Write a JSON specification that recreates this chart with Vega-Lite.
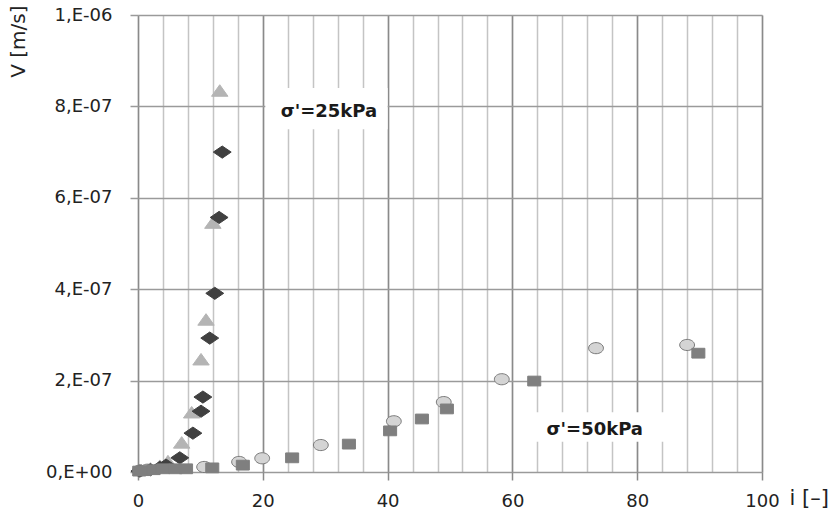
{
  "$schema": "https://vega.github.io/schema/vega-lite/v6.json",
  "width": 624,
  "height": 457,
  "autosize": {"type": "none"},
  "padding": {"left": 138, "top": 15, "right": 73, "bottom": 41},
  "background": "white",
  "config": {"view": {"stroke": null}, "font": "DejaVu Sans"},
  "datasets": {
    "pts": [
      {"series": "25kPa B", "i": 0.5, "V": 0.03e-7},
      {"series": "25kPa B", "i": 2.0, "V": 0.06e-7},
      {"series": "25kPa B", "i": 3.5, "V": 0.12e-7},
      {"series": "25kPa B", "i": 4.8, "V": 0.22e-7},
      {"series": "25kPa B", "i": 7.0, "V": 0.63e-7},
      {"series": "25kPa B", "i": 8.6, "V": 1.29e-7},
      {"series": "25kPa B", "i": 10.1, "V": 2.45e-7},
      {"series": "25kPa B", "i": 10.9, "V": 3.32e-7},
      {"series": "25kPa B", "i": 12.0, "V": 5.44e-7},
      {"series": "25kPa B", "i": 13.1, "V": 8.33e-7},
      {"series": "50kPa A", "i": 0.3, "V": 0.03e-7},
      {"series": "50kPa A", "i": 1.5, "V": 0.05e-7},
      {"series": "50kPa A", "i": 10.6, "V": 0.11e-7},
      {"series": "50kPa A", "i": 16.2, "V": 0.22e-7},
      {"series": "50kPa A", "i": 19.9, "V": 0.30e-7},
      {"series": "50kPa A", "i": 29.3, "V": 0.59e-7},
      {"series": "50kPa A", "i": 41.0, "V": 1.11e-7},
      {"series": "50kPa A", "i": 49.0, "V": 1.53e-7},
      {"series": "50kPa A", "i": 58.3, "V": 2.03e-7},
      {"series": "50kPa A", "i": 73.4, "V": 2.71e-7},
      {"series": "50kPa A", "i": 88.0, "V": 2.78e-7},
      {"series": "25kPa A", "i": 0.3, "V": 0.02e-7},
      {"series": "25kPa A", "i": 2.0, "V": 0.05e-7},
      {"series": "25kPa A", "i": 3.5, "V": 0.10e-7},
      {"series": "25kPa A", "i": 4.5, "V": 0.15e-7},
      {"series": "25kPa A", "i": 6.7, "V": 0.31e-7},
      {"series": "25kPa A", "i": 8.8, "V": 0.85e-7},
      {"series": "25kPa A", "i": 10.1, "V": 1.33e-7},
      {"series": "25kPa A", "i": 10.4, "V": 1.64e-7},
      {"series": "25kPa A", "i": 11.5, "V": 2.93e-7},
      {"series": "25kPa A", "i": 12.3, "V": 3.91e-7},
      {"series": "25kPa A", "i": 13.0, "V": 5.57e-7},
      {"series": "25kPa A", "i": 13.5, "V": 7.00e-7},
      {"series": "50kPa B", "i": 0.2, "V": 0.02e-7},
      {"series": "50kPa B", "i": 1.0, "V": 0.03e-7},
      {"series": "50kPa B", "i": 2.5, "V": 0.05e-7},
      {"series": "50kPa B", "i": 4.0, "V": 0.07e-7},
      {"series": "50kPa B", "i": 6.0, "V": 0.07e-7},
      {"series": "50kPa B", "i": 7.7, "V": 0.07e-7},
      {"series": "50kPa B", "i": 11.9, "V": 0.09e-7},
      {"series": "50kPa B", "i": 16.8, "V": 0.15e-7},
      {"series": "50kPa B", "i": 24.7, "V": 0.31e-7},
      {"series": "50kPa B", "i": 33.8, "V": 0.61e-7},
      {"series": "50kPa B", "i": 40.4, "V": 0.90e-7},
      {"series": "50kPa B", "i": 45.5, "V": 1.16e-7},
      {"series": "50kPa B", "i": 49.5, "V": 1.38e-7},
      {"series": "50kPa B", "i": 63.5, "V": 1.99e-7},
      {"series": "50kPa B", "i": 89.8, "V": 2.60e-7}
    ],
    "notes": [
      {"label": "σ'=25kPa", "i": 30.6, "V": 7.87e-7, "i0": 20.4, "i1": 40.0, "V0": 7.5e-7, "V1": 8.4e-7},
      {"label": "σ'=50kPa", "i": 73.2, "V": 0.92e-7, "i0": 62.0, "i1": 86.0, "V0": 0.66e-7, "V1": 1.31e-7}
    ]
  },
  "resolve": {"axis": {"x": "independent", "y": "independent"}},
  "layer": [
    {
      "data": {"name": "notes"},
      "mark": {"type": "rect", "fill": "white"},
      "encoding": {
        "x": {"field": "i0", "type": "quantitative", "scale": {"domain": [0, 100], "nice": false},
          "axis": {"orient": "bottom", "values": [0,4,8,12,16,20,24,28,32,36,40,44,48,52,56,60,64,68,72,76,80,84,88,92,96,100], "grid": true, "gridColor": "#c4c4c4", "gridWidth": 1.5, "labels": false, "ticks": false, "domain": false, "title": null}},
        "x2": {"field": "i1"},
        "y": {"field": "V0", "type": "quantitative", "scale": {"domain": [0, 1e-6], "nice": false},
          "axis": {"orient": "left", "values": [0, 2e-7, 4e-7, 6e-7, 8e-7, 1e-6], "grid": true, "gridColor": "#9a9a9a", "gridWidth": 1.5, "labels": false, "ticks": false, "domain": false, "title": null}},
        "y2": {"field": "V1"}
      }
    },
    {
      "data": {"name": "notes"},
      "mark": {"type": "text", "fontWeight": "bold", "fontSize": 18, "color": "#1a1a1a", "font": "DejaVu Sans"},
      "encoding": {
        "x": {"field": "i", "type": "quantitative", "axis": null},
        "y": {"field": "V", "type": "quantitative", "axis": null},
        "text": {"field": "label"}
      }
    },
    {
      "data": {"name": "pts"},
      "mark": {"type": "point", "filled": true, "opacity": 1, "strokeWidth": 1},
      "encoding": {
        "x": {"field": "i", "type": "quantitative",
          "axis": {"orient": "bottom", "values": [0, 20, 40, 60, 80, 100], "grid": true, "gridColor": "#8a8a8a", "gridWidth": 1.5, "domain": false, "ticks": true, "tickSize": 8, "tickColor": "#8a8a8a", "tickWidth": 1.5, "labelPadding": 12, "labelFlush": false, "labelFontSize": 18, "labelColor": "#222", "labelFont": "DejaVu Sans",
            "title": "i [–]", "titleFontSize": 21, "titleFontWeight": "normal", "titleColor": "#222", "titleFont": "DejaVu Sans", "titleX": 651, "titleY": 26, "titleAlign": "left", "titleBaseline": "middle", "titleAnchor": null}},
        "y": {"field": "V", "type": "quantitative",
          "axis": {"orient": "left", "values": [0, 2e-7, 4e-7, 6e-7, 8e-7, 1e-6], "grid": false, "domain": false, "ticks": true, "tickSize": 8, "tickColor": "#9a9a9a", "tickWidth": 1.5, "labelPadding": 18, "labelFlush": false, "labelFontSize": 18, "labelColor": "#222", "labelFont": "DejaVu Sans",
            "labelExpr": "datum.value == 0 ? '0,E+00' : (datum.value >= 9.9e-7 ? '1,E-06' : format(datum.value * 1e7, '.0f') + ',E-07')",
            "title": "V [m/s]", "titleFontSize": 20, "titleFontWeight": "normal", "titleColor": "#222", "titleFont": "DejaVu Sans", "titleAngle": 270, "titleX": -120, "titleY": -10, "titleAlign": "right", "titleBaseline": "middle"}},
        "shape": {"field": "series", "type": "nominal", "legend": null,
          "scale": {"domain": ["25kPa A", "25kPa B", "50kPa A", "50kPa B"],
            "range": ["M-1,0L0,-0.68L1,0L0,0.68Z", "M0,-0.8L1,0.6L-1,0.6Z", "M-1,0A1,0.75,0,1,1,1,0A1,0.75,0,1,1,-1,0Z", "M-1,-0.75H1V0.75H-1Z"]}},
        "size": {"field": "series", "type": "nominal", "legend": null,
          "scale": {"domain": ["25kPa A", "25kPa B", "50kPa A", "50kPa B"], "range": [320, 170, 150, 150]}},
        "fill": {"field": "series", "type": "nominal", "legend": null,
          "scale": {"domain": ["25kPa A", "25kPa B", "50kPa A", "50kPa B"], "range": ["#404040", "#b4b4b4", "#d4d4d4", "#7f7f7f"]}},
        "stroke": {"field": "series", "type": "nominal", "legend": null,
          "scale": {"domain": ["25kPa A", "25kPa B", "50kPa A", "50kPa B"], "range": ["#404040", "#b4b4b4", "#7a7a7a", "#7f7f7f"]}}
      }
    }
  ]
}
